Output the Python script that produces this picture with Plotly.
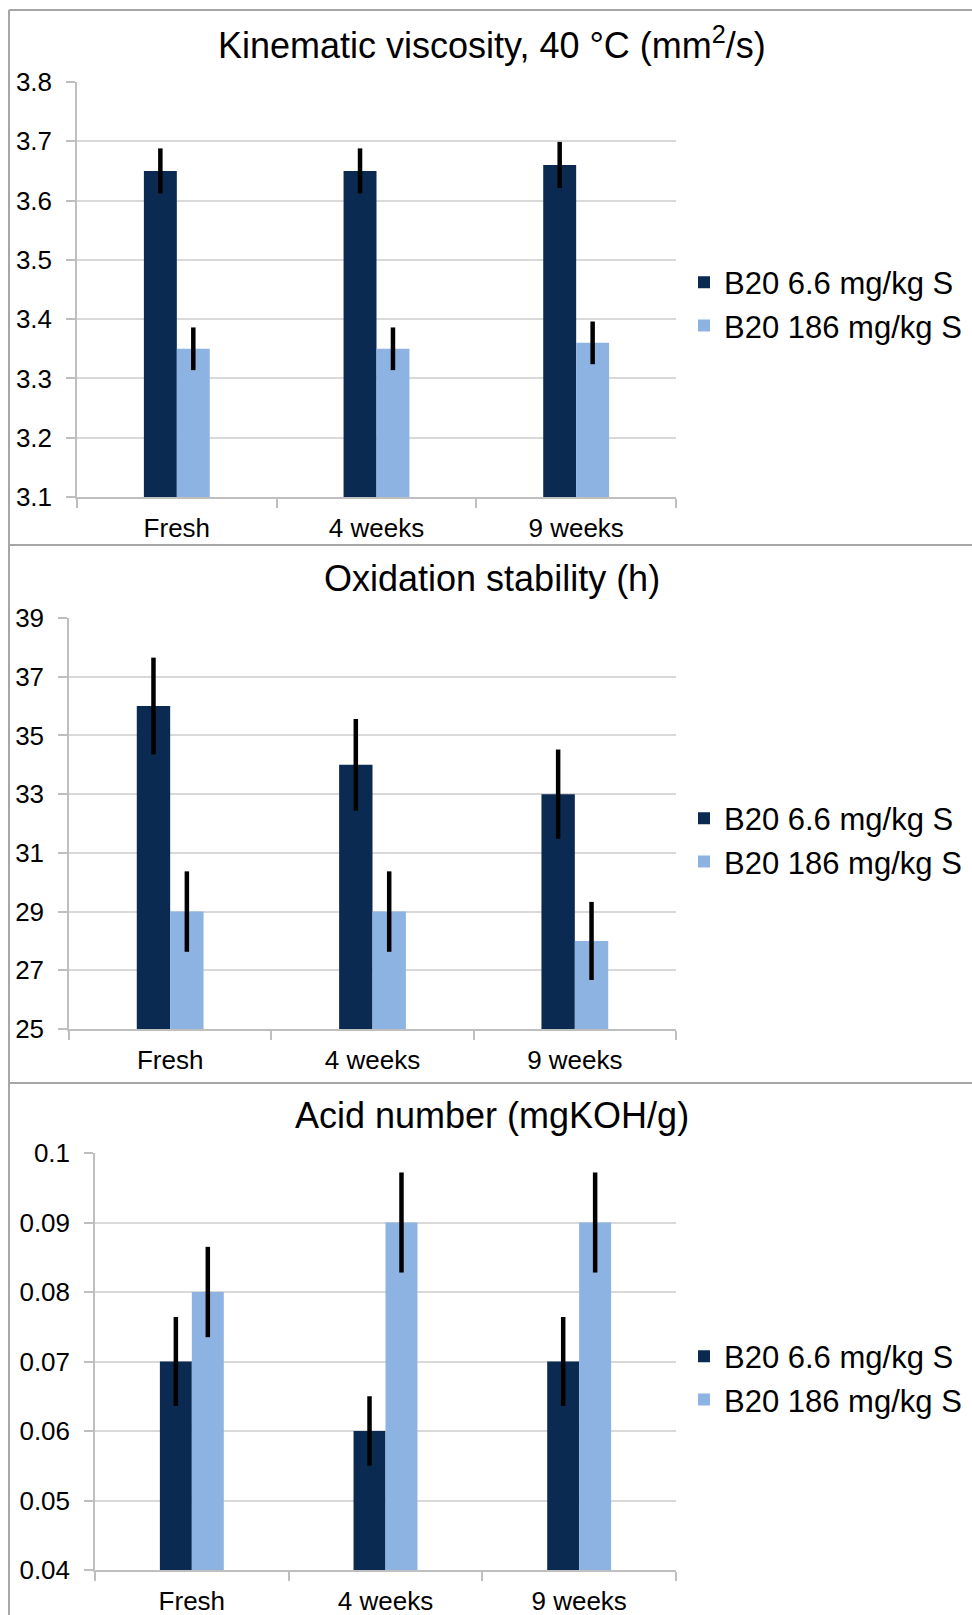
import plotly.graph_objects as go

# ---------------- data ----------------
categories = ["Fresh", "4 weeks", "9 weeks"]
series_names = ["B20 6.6 mg/kg S", "B20 186 mg/kg S"]

visc_low = [3.65, 3.65, 3.66]
visc_low_err = [0.038, 0.038, 0.039]
visc_high = [3.35, 3.35, 3.36]
visc_high_err = [0.036, 0.036, 0.036]

ox_low = [36, 34, 33]
ox_low_err = [1.65, 1.56, 1.52]
ox_high = [29, 29, 28]
ox_high_err = [1.37, 1.37, 1.33]

acid_low = [0.07, 0.06, 0.07]
acid_low_err = [0.0064, 0.005, 0.0064]
acid_high = [0.08, 0.09, 0.09]
acid_high_err = [0.0065, 0.0072, 0.0072]

titles = ["Kinematic viscosity, 40 °C (mm<sup>2</sup>/s)",
          "Oxidation stability (h)",
          "Acid number (mgKOH/g)"]

# ---------------- layout helpers ----------------
W, H = 972, 1615
FONT = "Liberation Sans, Arial, sans-serif"
DARK = "#0b2a51"
LIGHT = "#8db3e2"
GRID = "#d9d9d9"
AXIS = "#bfbfbf"
BORDER = "#a6a6a6"


def px_x(x):
    return x / W


def px_y(y):
    return 1 - y / H


panels = [
    dict(low=visc_low, low_err=visc_low_err, high=visc_high, high_err=visc_high_err,
         x0=77, x1=676, ytop=82, ybot=497, rng=[3.1, 3.8], dtick=0.1,
         title_y=43, legend_y=304),
    dict(low=ox_low, low_err=ox_low_err, high=ox_high, high_err=ox_high_err,
         x0=69, x1=676, ytop=618, ybot=1029, rng=[25, 39], dtick=2,
         title_y=578, legend_y=840),
    dict(low=acid_low, low_err=acid_low_err, high=acid_high, high_err=acid_high_err,
         x0=95, x1=676, ytop=1153, ybot=1570, rng=[0.04, 0.1], dtick=0.01,
         title_y=1115, legend_y=1378),
]

fig = go.Figure()
layout = dict(
    width=W, height=H,
    margin=dict(l=0, r=0, t=0, b=0, autoexpand=False),
    paper_bgcolor="white", plot_bgcolor="white",
    barmode="group", bargap=0.67, bargroupgap=0,
    font=dict(family=FONT, color="black"),
    annotations=[], shapes=[],
)

for i, p in enumerate(panels):
    n = "" if i == 0 else str(i + 1)
    xa, ya = "x" + n, "y" + n
    leg = "legend" + n
    for name, vals, errs, col in [(series_names[0], p["low"], p["low_err"], DARK),
                                  (series_names[1], p["high"], p["high_err"], LIGHT)]:
        fig.add_trace(go.Bar(
            x=categories, y=vals, name=name, xaxis=xa, yaxis=ya, legend=leg,
            marker=dict(color=col, line=dict(width=0)),
            error_y=dict(type="data", array=errs, visible=True,
                         color="black", thickness=4.5, width=0),
        ))
    layout["xaxis" + n] = dict(
        domain=[px_x(p["x0"]), px_x(p["x1"])], anchor=ya, automargin=False,
        type="category", tickson="boundaries", ticks="outside", ticklen=9,
        tickcolor=AXIS, tickwidth=1.5, showline=True, linecolor=AXIS, linewidth=1.5,
        showgrid=False, tickfont=dict(size=26, family=FONT, color="black"),
        ticklabelstandoff=7, fixedrange=True,
    )
    layout["yaxis" + n] = dict(
        domain=[px_y(p["ybot"]), px_y(p["ytop"])], anchor=xa, automargin=False,
        range=p["rng"], dtick=p["dtick"], tick0=p["rng"][0],
        ticks="outside", ticklen=9, tickcolor=AXIS, tickwidth=1.5,
        showline=True, linecolor=AXIS, linewidth=1.5,
        showgrid=True, gridcolor=GRID, gridwidth=1.5, zeroline=False,
        tickfont=dict(size=26, family=FONT, color="black"),
        ticklabelstandoff=9, fixedrange=True,
    )
    layout[leg] = dict(
        x=px_x(684), xanchor="left", y=px_y(p["legend_y"]), yanchor="middle",
        bgcolor="rgba(0,0,0,0)", borderwidth=0,
        font=dict(size=31, family=FONT, color="black"),
        tracegroupgap=0, traceorder="normal",
    )
    layout["annotations"].append(dict(
        text=titles[i], x=px_x(492), y=px_y(p["title_y"]), xref="paper", yref="paper",
        xanchor="center", yanchor="middle", showarrow=False,
        font=dict(size=36, family=FONT, color="black"),
    ))

# panel frame lines
for yl in [10, 545, 1083]:
    layout["shapes"].append(dict(type="line", xref="paper", yref="paper",
                                 x0=px_x(9), x1=1, y0=px_y(yl), y1=px_y(yl),
                                 line=dict(color=BORDER, width=2)))
layout["shapes"].append(dict(type="line", xref="paper", yref="paper",
                             x0=px_x(9), x1=px_x(9), y0=px_y(10), y1=0,
                             line=dict(color=BORDER, width=2)))

fig.update_layout(**layout)
fig.write_html("out.html")
